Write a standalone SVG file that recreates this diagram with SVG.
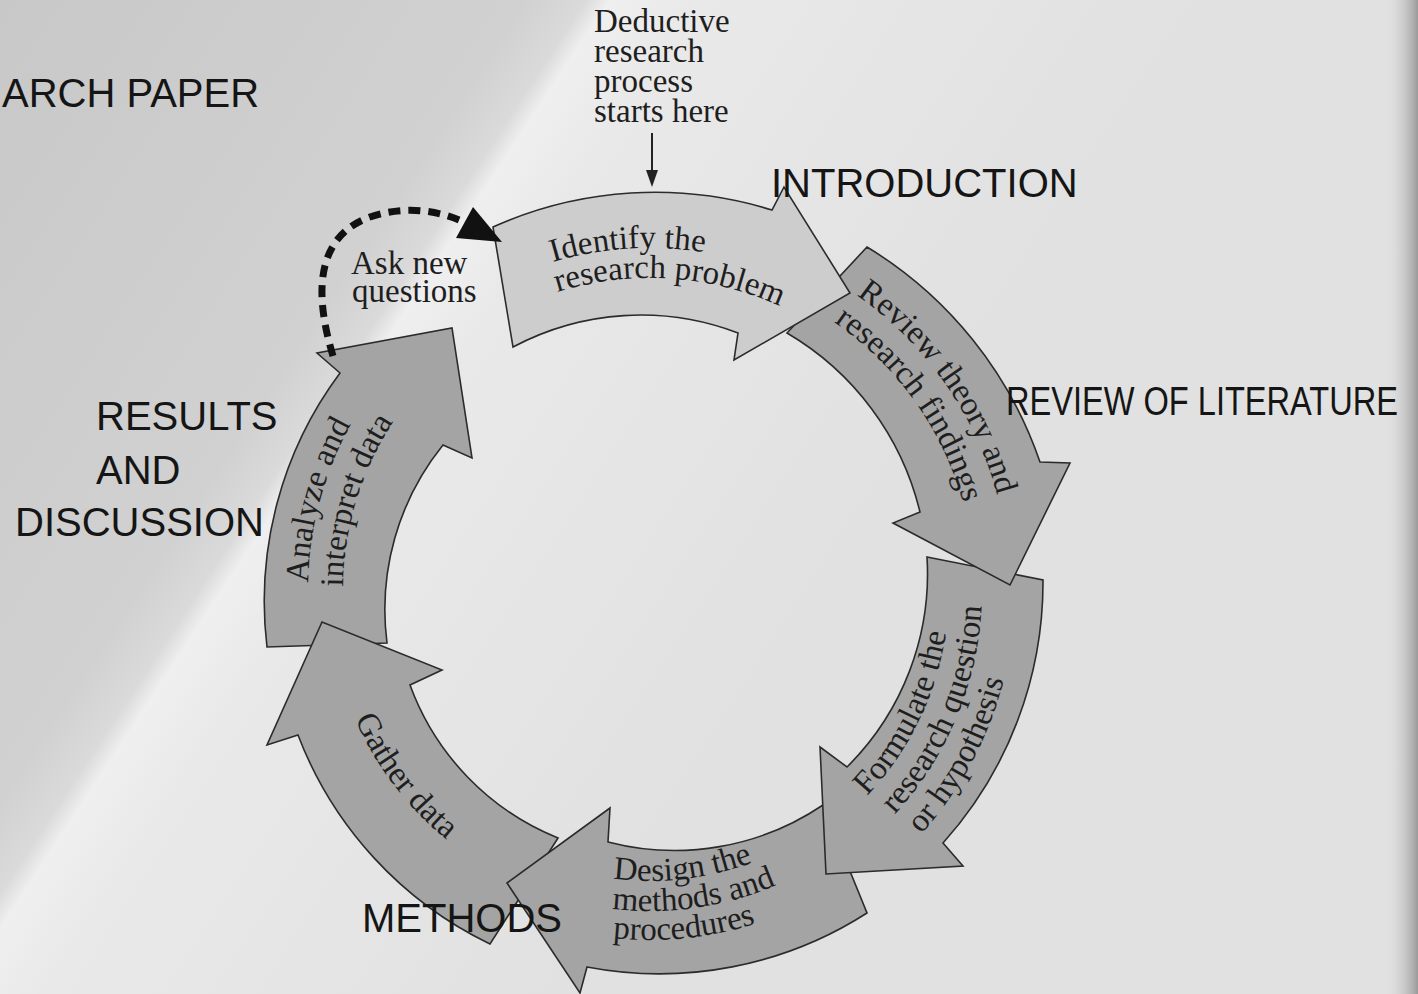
<svg xmlns="http://www.w3.org/2000/svg" xmlns:xlink="http://www.w3.org/1999/xlink" width="1418" height="994" viewBox="0 0 1418 994">
<style>
.arrow{stroke:#2b2b2b;stroke-width:1.6;stroke-linejoin:miter}
.dark{fill:#a4a4a4}
.light{fill:#cdcdcd}
.lbl{font-family:"Liberation Serif","Times New Roman",serif;font-size:33px;fill:#1e1e1e}
.cap{font-family:"Liberation Sans",Arial,sans-serif;font-size:40px;fill:#151515}
</style>
<defs>
<linearGradient id="bg" gradientUnits="userSpaceOnUse" x1="0" y1="0" x2="836" y2="548">
<stop offset="0" stop-color="#c8c8c8"/>
<stop offset="0.44" stop-color="#d1d1d1"/>
<stop offset="0.49" stop-color="#dadada"/>
<stop offset="0.51" stop-color="#efefef"/>
<stop offset="0.58" stop-color="#e9e9e9"/>
<stop offset="1" stop-color="#e1e1e1"/>
</linearGradient>
<linearGradient id="edge" x1="0" y1="0" x2="1" y2="0">
<stop offset="0" stop-color="#e1e1e1" stop-opacity="0"/>
<stop offset="1" stop-color="#9a9a9a"/>
</linearGradient>
<path id="p1a" d="M552.9,262.1 A342,342 0 0 1 767,268.6"/>
<path id="p1b" d="M557.2,292.1 A312,312 0 0 1 829,334.4"/>
<path id="p2a" d="M856.5,295.1 A360,360 0 0 1 1008.6,558.6"/>
<path id="p2b" d="M834.1,322.2 A325,325 0 0 1 973.8,561.7"/>
<path id="p3a" d="M866.9,795.8 A299,299 0 0 0 947.9,563.9"/>
<path id="p3b" d="M894.8,814.3 A332,332 0 0 0 978.8,543.8"/>
<path id="p3c" d="M921.2,834.2 A365,365 0 0 0 1013.6,621.8"/>
<path id="p4a" d="M613,878.6 A291,291 0 0 0 795.5,842"/>
<path id="p4b" d="M612,908.8 A321,321 0 0 0 820.1,862.2"/>
<path id="p4c" d="M612.8,938 A350,350 0 0 0 814.3,899"/>
<path id="p5a" d="M354.9,718.9 A322,322 0 0 0 489,868.9"/>
<path id="p6a" d="M308.1,582.8 A342,342 0 0 1 408.2,348.2"/>
<path id="p6b" d="M343,586.8 A307,307 0 0 1 432.9,372.9"/>
</defs>

<g id="background">
<rect x="0" y="0" width="1418" height="994" fill="url(#bg)"/>
<rect x="1385" y="0" width="33" height="994" fill="url(#edge)"/>
</g>

<g id="node-analyze">
<path class="arrow dark" d="M267,647 A382,382 0 0 1 340,373 L317,353 L452,328 L472,458 L443,445 A262,262 0 0 0 387,643 Z"/>
<text class="lbl"><textPath href="#p6a">Analyze and</textPath></text>
<text class="lbl"><textPath href="#p6b">interpret data</textPath></text>
</g>

<g id="node-gather">
<path class="arrow dark" d="M558,838 L490,944 A384,384 0 0 1 298,735 L267,745 L322,622 L442,670 L410,685 A262,262 0 0 0 558,838 Z"/>
<text class="lbl"><textPath href="#p5a">Gather data</textPath></text>
</g>

<g id="node-design">
<path class="arrow dark" d="M823,805 L867,913 A385,385 0 0 1 587,967 L580,993 L507,883 L610,808 L608,842 A265,265 0 0 0 823,805 Z"/>
<text class="lbl"><textPath href="#p4a">Design the</textPath></text>
<text class="lbl"><textPath href="#p4b">methods and</textPath></text>
<text class="lbl"><textPath href="#p4c">procedures</textPath></text>
</g>

<g id="node-formulate">
<path class="arrow dark" d="M927,557 L1043,580 A390,390 0 0 1 943,843 L963,866 L826,874 L820,747 L847,767 A272,272 0 0 0 927,557 Z"/>
<text class="lbl"><textPath href="#p3a">Formulate the</textPath></text>
<text class="lbl"><textPath href="#p3b">research question</textPath></text>
<text class="lbl"><textPath href="#p3c">or hypothesis</textPath></text>
</g>

<g id="node-review">
<path class="arrow dark" d="M867,247 A405,405 0 0 1 1040,462 L1070,463 L1010,585 L893,523 L920,512 A285,285 0 0 0 787,333 Z"/>
<text class="lbl"><textPath href="#p2a">Review theory and</textPath></text>
<text class="lbl"><textPath href="#p2b">research findings</textPath></text>
</g>

<g id="node-identify">
<path class="arrow light" d="M493,227 A396,396 0 0 1 772,210 L784,187 L850,293 L734,360 L738,333 A272,272 0 0 0 513,347 Z"/>
<text class="lbl"><textPath href="#p1a">Identify the</textPath></text>
<text class="lbl"><textPath href="#p1b">research problem</textPath></text>
</g>

<g id="node-ask">
<text class="lbl" x="351" y="274">Ask new</text>
<text class="lbl" x="352" y="302">questions</text>
</g>

<g id="node-start">
<text class="lbl" x="594" y="32">Deductive</text>
<text class="lbl" x="594" y="62">research</text>
<text class="lbl" x="594" y="92">process</text>
<text class="lbl" x="594" y="122">starts here</text>
</g>

<g id="connectors">
<path d="M333,356 C316,300 312,238 370,217 C405,205 440,210 468,224" fill="none" stroke="#111" stroke-width="7" stroke-dasharray="12 8"/>
<polygon points="473,207 502,242 456,238" fill="#111"/>
<line x1="652" y1="133" x2="652" y2="172" stroke="#222" stroke-width="2"/>
<polygon points="646,170 658,170 652,187" fill="#222"/>
</g>

<g id="section-labels">
<text class="cap" x="2" y="107">ARCH PAPER</text>
<text class="cap" x="771" y="197">INTRODUCTION</text>
<text class="cap" x="1006" y="415" font-size="39" textLength="392" lengthAdjust="spacingAndGlyphs">REVIEW OF LITERATURE</text>
<text class="cap" x="96" y="430">RESULTS</text>
<text class="cap" x="96" y="484">AND</text>
<text class="cap" x="15" y="536">DISCUSSION</text>
<text class="cap" x="362" y="932">METHODS</text>
</g>
</svg>
